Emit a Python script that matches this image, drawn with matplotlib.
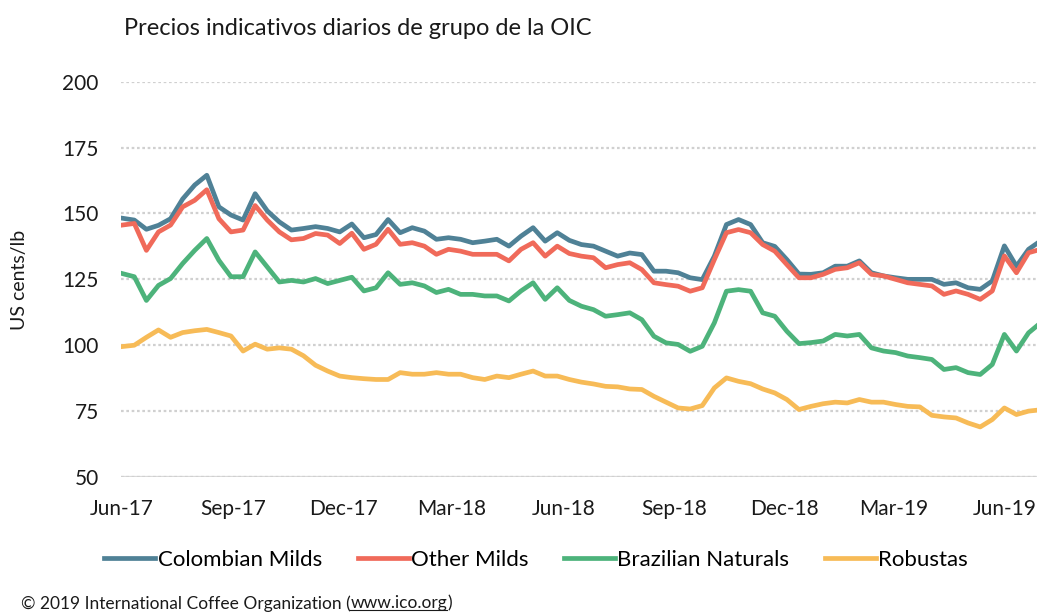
import numpy as np
import pandas as pd
import matplotlib
matplotlib.use('Agg')
import matplotlib.pyplot as plt
import matplotlib.dates as mdates
from matplotlib.lines import Line2D

plt.rcParams['font.family'] = ['Lato', 'DejaVu Sans']

# prices, one value every 10 days from 1 Jun 2017
start = '2017-06-01'
colombian = [148.2, 147.5, 144.0, 145.5, 148.0, 155.5, 160.8, 164.5, 152.5, 149.4,
             147.5, 157.5, 151.0, 146.8, 143.7, 144.3, 145.0, 144.3, 143.0, 146.0,
             140.8, 142.0, 147.7, 142.7, 144.6, 143.3, 140.2, 140.8, 140.2, 138.9,
             139.5, 140.2, 137.6, 141.4, 144.6, 139.5, 142.7, 139.8, 138.2, 137.6,
             135.7, 133.8, 135.0, 134.4, 128.1, 128.1, 127.5, 125.6, 124.9, 133.8,
             145.8, 147.7, 145.8, 138.9, 137.5, 132.5, 127.0, 126.9, 127.5, 130.0,
             130.0, 132.0, 127.5, 126.3, 125.6, 125.0, 125.0, 125.0, 123.1, 123.7,
             121.8, 121.2, 124.4, 137.7, 130.0, 136.4, 139.6]
other = [145.6, 146.2, 136.0, 143.0, 145.6, 152.5, 155.0, 159.0, 148.0, 143.0,
         143.7, 153.0, 147.5, 143.0, 140.0, 140.5, 142.4, 141.8, 138.6, 142.5,
         136.4, 138.3, 144.0, 138.3, 138.9, 137.6, 134.5, 136.4, 135.7, 134.5,
         134.5, 134.5, 132.0, 136.4, 138.9, 133.8, 137.6, 134.8, 133.8, 133.2,
         129.4, 130.6, 131.3, 128.7, 123.7, 123.0, 122.4, 120.5, 121.8, 132.5,
         142.7, 143.9, 142.7, 138.2, 135.7, 130.6, 125.6, 125.6, 126.9, 128.8,
         129.4, 131.3, 126.9, 126.3, 125.0, 123.7, 123.1, 122.5, 119.3, 120.6,
         119.3, 117.4, 120.6, 133.9, 127.5, 135.1, 136.4]
brazilian = [127.2, 126.0, 117.0, 122.7, 125.3, 131.0, 136.0, 140.5, 132.2, 126.0,
             126.0, 135.4, 129.7, 124.0, 124.6, 124.0, 125.3, 123.4, 124.6, 125.8,
             120.6, 121.8, 127.5, 123.1, 123.7, 122.5, 120.0, 121.2, 119.3, 119.3,
             118.7, 118.7, 116.8, 120.6, 123.7, 117.4, 121.8, 117.0, 114.8, 113.5,
             111.0, 111.6, 112.3, 109.7, 103.4, 100.9, 100.3, 97.7, 99.6, 108.5,
             120.5, 121.1, 120.5, 112.3, 111.0, 105.3, 100.6, 101.0, 101.6, 104.1,
             103.5, 104.1, 99.0, 97.8, 97.2, 95.9, 95.3, 94.6, 90.8, 91.5,
             89.6, 88.9, 92.7, 104.1, 97.8, 104.7, 108.5]
robustas = [99.5, 100.0, 103.0, 105.8, 103.0, 104.8, 105.5, 106.0, 104.8, 103.5,
            97.8, 100.4, 98.5, 99.0, 98.5, 96.0, 92.4, 90.2, 88.3, 87.7,
            87.3, 87.0, 87.0, 89.6, 89.0, 89.0, 89.6, 89.0, 89.0, 87.7,
            87.0, 88.3, 87.7, 89.0, 90.2, 88.3, 88.3, 87.0, 86.0, 85.3,
            84.4, 84.2, 83.4, 83.2, 80.6, 78.4, 76.2, 75.8, 77.1, 83.8,
            87.6, 86.3, 85.4, 83.4, 81.9, 79.4, 75.6, 76.8, 77.8, 78.4,
            78.1, 79.4, 78.4, 78.4, 77.5, 76.8, 76.6, 73.4, 72.8, 72.4,
            70.5, 69.0, 71.8, 76.2, 73.7, 75.0, 75.5]

names = ['Colombian Milds', 'Other Milds', 'Brazilian Naturals', 'Robustas']
colors = ['#4F8196', '#F06A5A', '#4DB37B', '#F7BB57']

dates = pd.date_range(start, periods=len(colombian), freq='10D')

fig = plt.figure(figsize=(10.37, 6.12), dpi=100)
ax = fig.add_axes([0.1167, 0.2206, 0.8833, 0.6459])

series = [colombian, other, brazilian, robustas]
for vals, name, col in zip(series, names, colors):
    ax.plot(dates, vals, color=col, lw=3.4, label=name, solid_joinstyle='round')

ax.set_ylim(50, 200)
ax.set_yticks(np.arange(50, 201, 25))
ax.set_xlim(pd.Timestamp(start) - pd.Timedelta(days=1), pd.Timestamp(start) + pd.Timedelta(days=757))
ax.xaxis.set_major_locator(mdates.MonthLocator(bymonth=[3, 6, 9, 12]))
ax.xaxis.set_major_formatter(mdates.DateFormatter('%b-%y'))

ax.yaxis.grid(True, linestyle=(0, (1.2, 1.2)), color='#d0d0d0', lw=1.6)
ax.set_axisbelow(True)
ax.axhline(50, color='#d9d9d9', lw=1.6, zorder=0.5)
for s in ax.spines.values():
    s.set_visible(False)
ax.tick_params(length=0, labelsize=15, colors='#1a1a1a')
ax.tick_params(axis='x', pad=16)
ax.tick_params(axis='y', pad=16)

fig.text(0.12, 0.953, 'Precios indicativos diarios de grupo de la OIC', fontsize=17,
         color='#1a1a1a', va='center', ha='left')
fig.text(0.019, 0.5425, 'US cents/lb', rotation=90, fontsize=14, color='#1a1a1a',
         va='center', ha='center')

handles = [Line2D([], [], color=c, lw=3.4) for c in colors]
fig.legend(handles, names, loc='center', bbox_to_anchor=(0.517, 0.085), ncol=4,
           frameon=False, fontsize=16, handlelength=2.3, handletextpad=0.1,
           columnspacing=1.6)

# copyright line with underlined url
W = fig.get_figwidth() * fig.dpi
H = fig.get_figheight() * fig.dpi
fig.canvas.draw()
r = fig.canvas.get_renderer()
t1 = fig.text(0.02, 0.014, '\u00a9 2019 International Coffee Organization (', fontsize=12.5,
              color='#1a1a1a', va='center')
b1 = t1.get_window_extent(r)
t2 = fig.text(b1.x1 / W, 0.014, 'www.ico.org', fontsize=12.5, color='#1a1a1a', va='center')
b2 = t2.get_window_extent(r)
fig.text(b2.x1 / W, 0.014, ')', fontsize=12.5, color='#1a1a1a', va='center')
fig.add_artist(Line2D([b2.x0 / W, b2.x1 / W], [(b2.y0 + 1) / H] * 2, color='#1a1a1a', lw=0.8))

fig.savefig('out.png', dpi=100)
